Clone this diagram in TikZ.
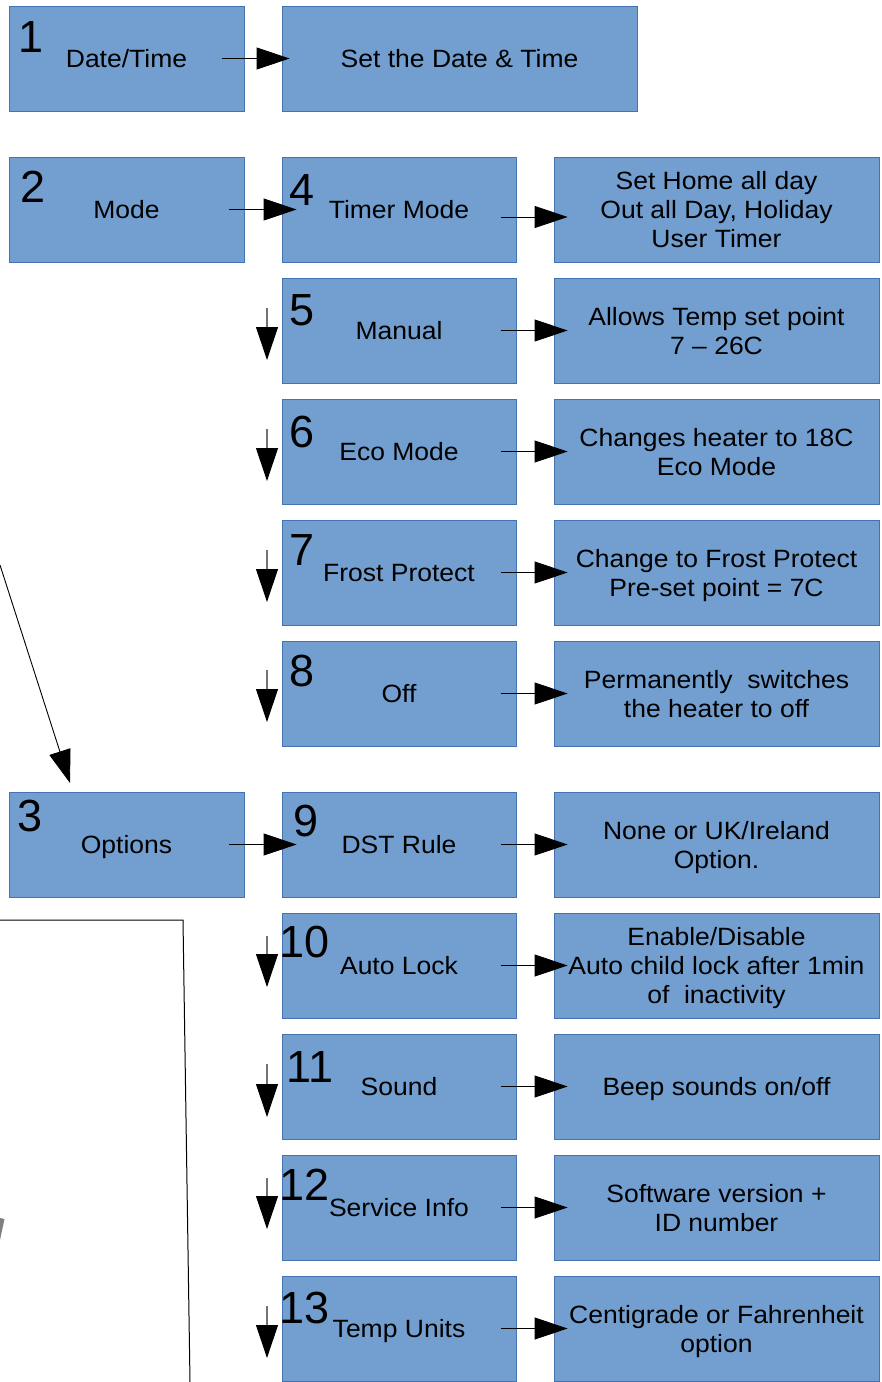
\documentclass[tikz,border=0pt]{standalone}
\usepackage{fontspec}
\setmainfont{Liberation Sans}
\newfontfamily\labelfont[FakeStretch=1.06]{Liberation Sans}
\usetikzlibrary{arrows.meta}
\definecolor{boxfill}{RGB}{114,159,207}
\definecolor{boxline}{RGB}{69,114,176}
\newcommand{\lblstrut}{\rule[-6pt]{0pt}{30pt}}
\begin{document}
\begin{tikzpicture}[x=1pt,y=-1pt,
  box/.style={draw=boxline, line width=0.8pt, fill=boxfill, inner sep=0pt,
    align=center, minimum height=105pt,
    font={\labelfont\fontsize{25}{29}\selectfont\lineskiplimit=-100pt},
    execute at begin node=\lblstrut, execute at end node=\lblstrut},
  c1/.style={box, minimum width=235pt},
  c2/.style={box, minimum width=234pt},
  c3/.style={box, minimum width=325pt},
  num/.style={inner sep=0pt, anchor=base, font=\fontsize{45}{45}\selectfont},
  harr/.style={-{Triangle[length=33pt,width=22pt]}, line width=0.9pt, draw=black},
  varr/.style={-{Triangle[length=33pt,width=22pt,color=black]}, line width=1.1pt, draw=black!55},
  plain/.style={line width=1pt, draw=black}]
\fill[white] (0,0) rectangle (882,1382);
\useasboundingbox (0,0) rectangle (882,1382);

% column 1
\node[c1] (b1) at (126.5,58.5) {Date/Time};
\node[c1] (b2) at (126.5,209.5) {Mode};
\node[c1] (b3) at (126.5,844.5) {Options};
\node[box, minimum width=355pt] (b1t) at (459.5,58.5) {Set the Date \& Time};

% column 2
\node[c2] (b4) at (399,209.5) {Timer Mode};
\node[c2] (b5) at (399,330.5) {Manual};
\node[c2] (b6) at (399,451.5) {Eco Mode};
\node[c2] (b7) at (399,572.5) {Frost Protect};
\node[c2] (b8) at (399,693.5) {Off};
\node[c2] (b9) at (399,844.5) {DST Rule};
\node[c2] (b10) at (399,965.5) {Auto Lock};
\node[c2] (b11) at (399,1086.5) {Sound};
\node[c2] (b12) at (399,1207.5) {Service Info};
\node[c2] (b13) at (399,1328.5) {Temp Units};

% column 3
\node[c3] (t4) at (716.5,209.5) {\lblstrut Set Home all day\\Out all Day, Holiday\\User Timer};
\node[c3] (t5) at (716.5,330.5) {\lblstrut Allows Temp set point\\7 – 26C};
\node[c3] (t6) at (716.5,451.5) {\lblstrut Changes heater to 18C\\Eco Mode};
\node[c3] (t7) at (716.5,572.5) {\lblstrut Change to Frost Protect\\Pre-set point = 7C};
\node[c3] (t8) at (716.5,693.5) {\lblstrut Permanently~ switches\\the heater to off};
\node[c3] (t9) at (716.5,844.5) {\lblstrut None or UK/Ireland\\Option.};
\node[c3] (t10) at (716.5,965.5) {\lblstrut Enable/Disable\\Auto child lock after 1min\\of~ inactivity};
\node[c3] (t11) at (716.5,1086.5) {Beep sounds on/off};
\node[c3] (t12) at (716.5,1207.5) {\lblstrut Software version +\\ID number};
\node[c3] (t13) at (716.5,1328.5) {\lblstrut Centigrade or Fahrenheit\\option};

% numbers
\node[num] (n1) at (31,52) {1};
\node[num] (n2) at (33,202) {2};
\node[num] (n3) at (30,831) {3};
\node[num] (n4) at (302,205) {4};
\node[num] (n5) at (302,325) {5};
\node[num] (n6) at (302,447) {6};
\node[num] (n7) at (302,565) {7};
\node[num] (n8) at (302,686) {8};
\node[num] (n9) at (306,836) {9};
\node[num] (n10) at (305,957) {10};
\node[num] (n11) at (310,1082) {11};
\node[num] (n12) at (305,1200) {12};
\node[num] (n13) at (305,1323) {13};

% horizontal arrows
\draw[harr] ([xshift=-22pt]b1.east) -- ([xshift=8pt]b1t.west);
\draw[harr] ([xshift=-15pt]b2.east) -- ([xshift=15pt]b4.west);
\draw[harr] ([xshift=-15pt]b3.east) -- ([xshift=15pt]b9.west);
\draw[harr] ([xshift=-15pt,yshift=-7.5pt]b4.east) -- ([xshift=14pt,yshift=-7.5pt]t4.west);
\foreach \i in {5,6,7,8,9,10,11,12,13}{
  \draw[harr] ([xshift=-15pt]b\i.east) -- ([xshift=14pt]t\i.west);
}

% vertical arrows
\foreach \i/\a/\b in {5/308/360, 6/429/481, 7/550/602, 8/670/722,
                      10/936/987, 11/1064/1117, 12/1178/1229, 13/1306/1358}{
  \coordinate (va\i) at (267,\a);
  \coordinate (vb\i) at (267,\b);
  \draw[varr] (va\i) -- (vb\i);
}

% diagonal arrow into Options
\coordinate (dA) at (0,565);
\coordinate (dB) at (70,783);
\draw[-{Triangle[length=33pt,width=22pt]}, line width=0.9pt] (dA) -- (dB);

% partial outline at bottom left
\coordinate (o1) at (0,920);
\coordinate (o2) at (183,920);
\coordinate (o3) at (190,1382);
\draw[plain] (o1) -- (o2) -- (o3);
\fill[black!50] (0,1218) -- (4.5,1219) -- (0,1240) -- cycle;
\end{tikzpicture}
\end{document}
